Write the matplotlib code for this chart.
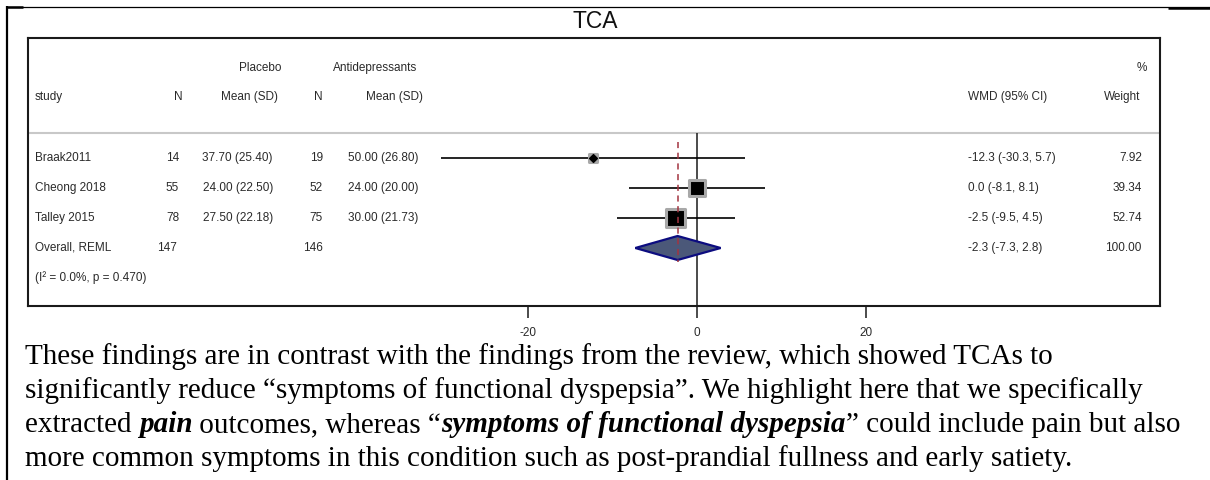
import matplotlib
matplotlib.use("Agg")
import matplotlib.pyplot as plt
from matplotlib.lines import Line2D
from matplotlib.patches import Polygon
from matplotlib.transforms import blended_transform_factory
import numpy as np

plt.rcParams["axes.unicode_minus"] = False

# ---- study data -------------------------------------------------------
studies = ["Braak2011", "Cheong 2018", "Talley 2015"]
n_placebo = [14, 55, 78]
mean_placebo = [37.70, 24.00, 27.50]
sd_placebo = [25.40, 22.50, 22.18]
n_anti = [19, 52, 75]
mean_anti = [50.00, 24.00, 30.00]
sd_anti = [26.80, 20.00, 21.73]
wmd = [-12.3, 0.0, -2.5]
ci_low = [-30.3, -8.1, -9.5]
ci_high = [5.7, 8.1, 4.5]
weights = [7.92, 39.34, 52.74]

overall_label = "Overall, REML"
overall_n_placebo = 147
overall_n_anti = 146
overall_wmd = -2.3
overall_low = -7.3
overall_high = 2.8
overall_weight = 100.00
het_label = "(I² = 0.0%, p = 0.470)"

x_ticks = [-20, 0, 20]
title = "TCA"

body_lines = [
    [("These findings are in contrast with the findings from the review, which showed TCAs to", "r")],
    [("significantly reduce “symptoms of functional dyspepsia”. We highlight here that we specifically", "r")],
    [("extracted ", "r"), ("pain", "bi"), (" outcomes, whereas “", "r"),
     ("symptoms of functional dyspepsia", "bi"), ("” could include pain but also", "r")],
    [("more common symptoms in this condition such as post-prandial fullness and early satiety.", "r")],
]

# ---- layout -----------------------------------------------------------
W, H = 1210, 480
fig = plt.figure(figsize=(W / 100, H / 100), dpi=100)


def fx(px):
    return px / W


def fy(py):
    return 1 - py / H


SANS = "Liberation Sans"
SERIF = "Liberation Serif"
TXT = "#2a2a2a"
FS = 8.5

# forest panel frame in pixels
left_px, right_px, top_px, bot_px = 28, 1160, 38, 306
zero_px, px_per_unit = 697, 8.45
row0_px, row_step = 158, 30

ax = fig.add_axes([fx(left_px), fy(bot_px), (right_px - left_px) / W, (bot_px - top_px) / H])
ax.set_xlim((left_px - zero_px) / px_per_unit, (right_px - zero_px) / px_per_unit)
ax.set_ylim((bot_px - row0_px) / row_step, (top_px - row0_px) / row_step)
ymax = (bot_px - row0_px) / row_step

for s in ax.spines.values():
    s.set_linewidth(1.5)
    s.set_color("#1a1a1a")
ax.set_xticks(x_ticks)
ax.set_xticklabels([str(t) for t in x_ticks])
ax.set_yticks([])
ax.tick_params(axis="x", direction="out", length=8.6, width=1.1, pad=6.5,
               labelsize=FS, labelcolor=TXT, color="#1a1a1a")
for lab in ax.get_xticklabels():
    lab.set_fontfamily(SANS)

sep_row = (133 - row0_px) / row_step
ax.axhline(sep_row, color="#c8c8c8", lw=1.5, zorder=1)

# reference line at zero and dashed line at the pooled estimate
ax.vlines(0, sep_row, ymax, color="#1a1a1a", lw=1.1, zorder=2)
ax.vlines(overall_wmd, (142 - row0_px) / row_step, (262 - row0_px) / row_step,
          color="#a33440", lw=1.1, linestyles=(0, (4, 3)), zorder=5)

rows = np.arange(len(studies))
# confidence intervals
ax.hlines(rows, ci_low, ci_high, color="black", lw=1.2, zorder=3)
# weighted boxes
side_px = 2.6 * np.sqrt(np.array(weights))
ax.scatter(wmd, rows, s=(side_px * 0.72) ** 2, marker="s", facecolor="black",
           edgecolor="#a8a8a8", linewidths=2.2, zorder=4)
ax.scatter(wmd, rows, s=(5.5 * 0.72) ** 2, marker="D", color="black", zorder=4.5)

# pooled diamond
orow = len(studies)
dh = 12 / row_step
diamond = Polygon([(overall_low, orow), (overall_wmd, orow - dh),
                   (overall_high, orow), (overall_wmd, orow + dh)],
                  closed=True, facecolor="#4b5879", edgecolor="#0c0c80", lw=1.6, zorder=4)
ax.add_patch(diamond)

# ---- table text ---------------------------------------------------------
tr = blended_transform_factory(fig.transFigure, ax.transData)


def put(px, row, s, ha="left"):
    ax.text(fx(px), row, s, transform=tr, ha=ha, va="center", fontsize=FS,
            family=SANS, color=TXT, clip_on=False)


hdr1 = (68 - row0_px) / row_step
hdr2 = (97 - row0_px) / row_step
put(282, hdr1, "Placebo", "right")
put(417, hdr1, "Antidepressants", "right")
put(1147, hdr1, "%", "right")
put(35, hdr2, "study")
put(178, hdr2, "N", "center")
put(278, hdr2, "Mean (SD)", "right")
put(318, hdr2, "N", "center")
put(423, hdr2, "Mean (SD)", "right")
put(968, hdr2, "WMD (95% CI)")
put(1140, hdr2, "Weight", "right")

for i, name in enumerate(studies):
    put(35, i, name)
    put(179, i, f"{n_placebo[i]}", "right")
    put(273, i, f"{mean_placebo[i]:.2f} ({sd_placebo[i]:.2f})", "right")
    put(323, i, f"{n_anti[i]}", "right")
    put(418, i, f"{mean_anti[i]:.2f} ({sd_anti[i]:.2f})", "right")
    put(968, i, f"{wmd[i]:.1f} ({ci_low[i]:.1f}, {ci_high[i]:.1f})")
    put(1142, i, f"{weights[i]:.2f}", "right")

put(35, orow, overall_label)
put(177, orow, f"{overall_n_placebo}", "right")
put(323, orow, f"{overall_n_anti}", "right")
put(968, orow, f"{overall_wmd:.1f} ({overall_low:.1f}, {overall_high:.1f})")
put(1141, orow, f"{overall_weight:.2f}", "right")
put(35, orow + 1, het_label)

# ---- title cell and page borders ---------------------------------------
fig.text(fx(595), fy(28), title, ha="center", va="baseline", fontsize=16.5,
         family=SANS, color="#111111")


def hline(x0, x1, y, lw):
    fig.add_artist(Line2D([fx(x0), fx(x1)], [fy(y), fy(y)], transform=fig.transFigure,
                          color="black", lw=lw, solid_capstyle="butt"))


hline(7, 1210, 7, 0.9)
hline(7, 23, 7, 1.8)
hline(1168, 1210, 7.5, 1.8)
fig.add_artist(Line2D([fx(7), fx(7)], [fy(6), fy(480)], transform=fig.transFigure,
                      color="black", lw=1.6, solid_capstyle="butt"))

# ---- paragraph below the panel -------------------------------------------
BODY_FS = 21
styles = {"r": dict(style="normal", weight="normal"),
          "bi": dict(style="italic", weight="bold")}
renderer = fig.canvas.get_renderer()


def advance(s, key):
    probe = fig.text(0, 0, s + "|", fontsize=BODY_FS, family=SERIF, **styles[key])
    ref = fig.text(0, 0, "|", fontsize=BODY_FS, family=SERIF, **styles[key])
    w = probe.get_window_extent(renderer).width - ref.get_window_extent(renderer).width
    probe.remove()
    ref.remove()
    return w


baselines = [364, 398, 432, 466]
for line, base in zip(body_lines, baselines):
    x = 25.0
    for seg, key in line:
        fig.text(fx(x), fy(base), seg, ha="left", va="baseline", fontsize=BODY_FS,
                 family=SERIF, color="black", **styles[key])
        x += advance(seg, key)

fig.savefig("out.png", dpi=100)
